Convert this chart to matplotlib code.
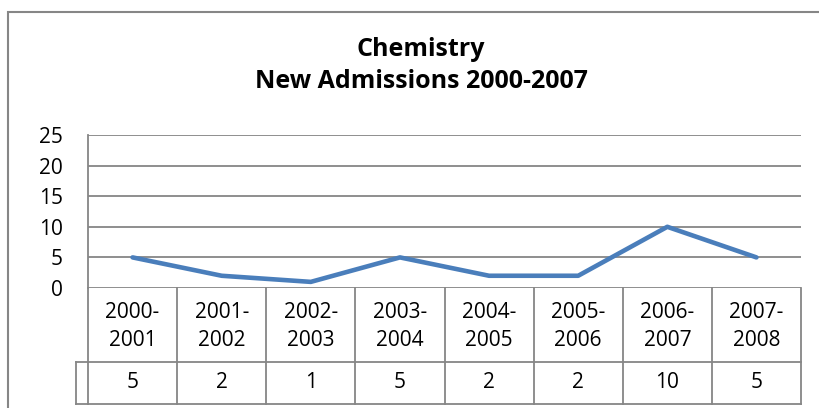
import matplotlib
matplotlib.use("Agg")
import matplotlib.pyplot as plt
from matplotlib.patches import Rectangle

categories = ["2000-2001", "2001-2002", "2002-2003", "2003-2004",
              "2004-2005", "2005-2006", "2006-2007", "2007-2008"]
admissions = [5, 2, 1, 5, 2, 2, 10, 5]
y_ticks = [0, 5, 10, 15, 20, 25]
title = "Chemistry\nNew Admissions 2000-2007"

W, H = 819, 408
fig = plt.figure(figsize=(W / 100, H / 100), dpi=100)
FONT = "Open Sans"
FS = 15
GRID = "#868686"
LINE = "#4A7EBB"

def fx(px):
    return px / W

def fy(py):
    return 1 - py / H

# outer chart border (extends beyond canvas on right/bottom)
fig.patches.append(Rectangle((fx(8), fy(430)), fx(900), (430 - 12) / H,
                             transform=fig.transFigure, fill=False,
                             edgecolor=GRID, lw=1.5))

L, R, T, B = 88, 801, 135, 288
ax = fig.add_axes([fx(L), fy(B), fx(R - L), (B - T) / H])
x = list(range(len(categories)))
ax.plot(x, admissions, color=LINE, lw=3.3, solid_capstyle="round",
        solid_joinstyle="round", zorder=3)
ax.set_xlim(-0.5, len(categories) - 0.5)
ax.set_ylim(0, 25)
ax.set_yticks(y_ticks)
ax.set_yticklabels([str(v) for v in y_ticks], fontsize=FS, family=FONT)
ax.tick_params(axis="y", length=0, pad=18)
ax.set_xticks([])
for v in y_ticks:
    ax.axhline(v, color=GRID, lw=1.3, zorder=1)
for s in ["top", "bottom", "right"]:
    ax.spines[s].set_visible(False)
ax.spines["left"].set_color(GRID)
ax.spines["left"].set_linewidth(1.3)

# data table beneath the axis
tab = fig.add_axes([fx(L), fy(404), fx(R - L), (404 - B) / H])
tab.set_xlim(-0.5, len(categories) - 0.5)
tab.set_ylim(0, 116)
tab.axis("off")
row_split = 404 - 362  # value row height
lk = dict(color=GRID, lw=1.3, clip_on=False)
tab.plot([-0.5, len(categories) - 0.5], [row_split, row_split], **lk)
tab.plot([-0.5, len(categories) - 0.5], [0, 0], **lk)
for i in range(len(categories) + 1):
    tab.plot([i - 0.5, i - 0.5], [0, 116], **lk)
# legend-key stub to the left
off = (L - 76) / (R - L) * len(categories)
tab.plot([-0.5 - off, -0.5], [row_split, row_split], **lk)
tab.plot([-0.5 - off, -0.5], [0, 0], **lk)
tab.plot([-0.5 - off, -0.5 - off], [0, row_split], **lk)

for i, (c, v) in enumerate(zip(categories, admissions)):
    a, b = c.split("-")
    tab.text(i, 404 - 313, a + "-", ha="center", va="center", fontsize=FS, family=FONT)
    tab.text(i, 404 - 340, b, ha="center", va="center", fontsize=FS, family=FONT)
    tab.text(i, 404 - 383, str(v), ha="center", va="center", fontsize=FS, family=FONT)

t1, t2 = title.split("\n")
fig.text(fx(421), fy(50), t1, ha="center", va="center", fontsize=18,
         weight="bold", family=FONT)
fig.text(fx(421), fy(82), t2, ha="center", va="center", fontsize=18,
         weight="bold", family=FONT)

fig.savefig("out.png", dpi=100)
